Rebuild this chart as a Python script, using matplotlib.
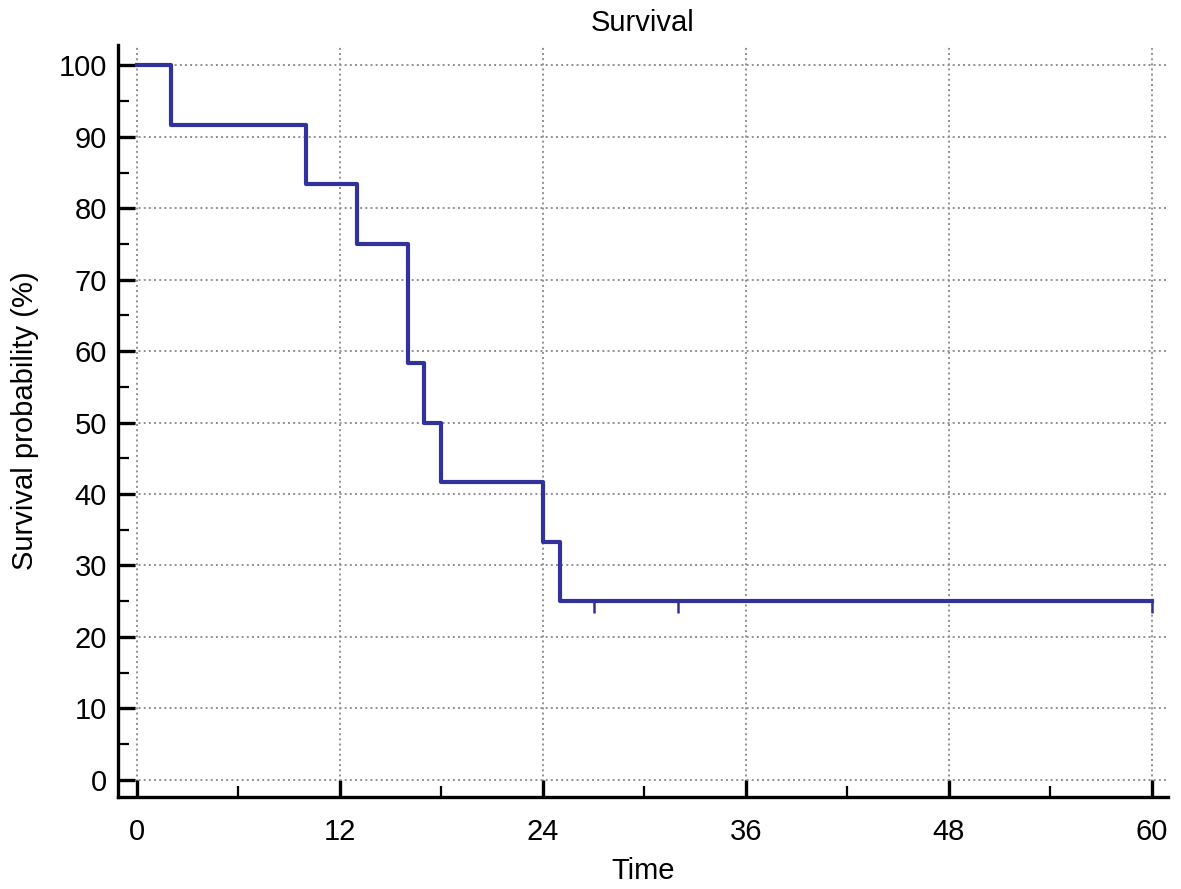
import numpy as np
import matplotlib
matplotlib.use("Agg")
import matplotlib.pyplot as plt
from matplotlib.ticker import MultipleLocator

# Kaplan-Meier estimate
event_time = [0, 2, 10, 13, 16, 17, 18, 24, 25, 60]
survival = [100, 91.67, 83.33, 75, 58.33, 50, 41.67, 33.33, 25, 25]
censor_time = [27, 32, 60]
censor_surv = [25, 25, 25]

x_ticks = [0, 12, 24, 36, 48, 60]
y_ticks = [0, 10, 20, 30, 40, 50, 60, 70, 80, 90, 100]

plt.rcParams['font.family'] = ['Liberation Sans', 'DejaVu Sans']
fs = 21

fig = plt.figure(figsize=(11.81, 8.89), dpi=100)
ax = fig.add_axes([0.0999, 0.1035, 0.889, 0.8455])

line_col = '#32329c'
ax.plot(event_time, survival, drawstyle='steps-post', color=line_col, lw=3.0, zorder=3)
ax.plot(censor_time, censor_surv, linestyle='none', marker=3, markersize=8.5,
        markeredgewidth=1.8, color=line_col, zorder=3)

ax.set_xlim(-1.12, 60.95)
ax.set_ylim(-2.4, 102.8)
ax.set_xticks(x_ticks)
ax.set_yticks(y_ticks)
ax.xaxis.set_minor_locator(MultipleLocator(6))
ax.yaxis.set_minor_locator(MultipleLocator(5))

ax.grid(True, which='major', linestyle=':', color='#909090', lw=1.4)
ax.set_axisbelow(True)

for s in ['top', 'right']:
    ax.spines[s].set_visible(False)
for s in ['left', 'bottom']:
    ax.spines[s].set_linewidth(2.4)

ax.tick_params(which='major', direction='in', length=12, width=2.4,
               labelsize=fs, colors='black')
ax.tick_params(which='minor', direction='in', length=8, width=1.6)
ax.tick_params(axis='y', which='major', pad=8)
ax.tick_params(axis='x', which='major', pad=15)

ax.set_xlabel('Time', fontsize=fs, labelpad=8)
ax.set_ylabel('Survival probability (%)', fontsize=fs, labelpad=14)
ax.set_title('Survival', fontsize=fs, pad=10)

plt.savefig('out.png', dpi=100)
